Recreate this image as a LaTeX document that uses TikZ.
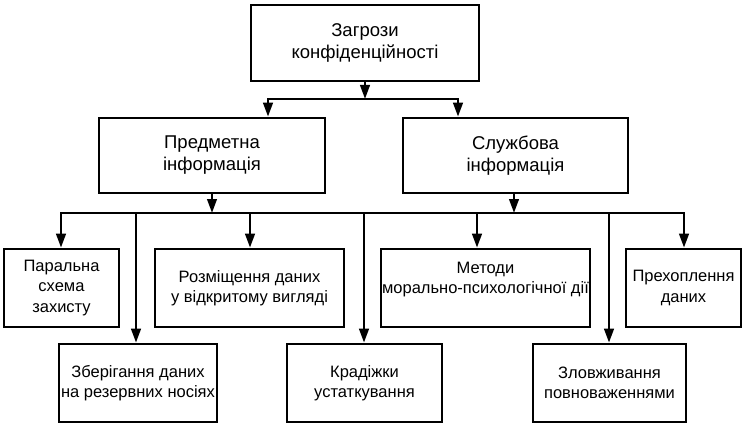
\documentclass[tikz,border=0pt]{standalone}
\usepackage{fontspec}
\setmainfont{Liberation Sans}
\usetikzlibrary{arrows.meta}
\begin{document}
\begin{tikzpicture}[x=1pt,y=-1pt,
  box/.style={draw, line width=2.6pt, align=center, inner sep=1pt,
    font=\fontsize{16.5}{20.5}\selectfont},
  bigbox/.style={box, font=\fontsize{18.5}{22}\selectfont},
  conn/.style={line width=2.6pt, line join=miter},
  arr/.style={conn, -{Triangle[length=14pt,width=9.5pt]}}]
\useasboundingbox (0,0) rectangle (746,425);
% level 0
\node[bigbox, minimum width=228pt, minimum height=76pt] (top) at (365,43) {Загрози\\конфіденційності};
% level 1
\node[bigbox, minimum width=226pt, minimum height=75pt] (pred) at (212,155.5) {Предметна\\інформація};
\node[bigbox, minimum width=225pt, minimum height=75pt] (sluzh) at (515.5,155.5) {Службова\\інформація};
% level 2 (upper row)
\node[box, minimum width=115pt, minimum height=78pt] (par) at (61.5,288) {Паральна\\схема\\захисту};
\node[box, minimum width=189pt, minimum height=78pt] (rozm) at (249.5,288) {Розміщення даних\\у відкритому вигляді};
\node[box, minimum width=209pt, minimum height=78pt] (met) at (485.5,288) {Методи\\морально-психологічної дії\\\mbox{}};
\node[box, minimum width=115pt, minimum height=78pt] (preh) at (683.5,288) {Прехоплення\\даних};
% level 2 (lower row)
\node[box, minimum width=158pt, minimum height=78pt] (zber) at (138,383) {Зберігання даних\\на резервних носіях};
\node[box, minimum width=155pt, minimum height=78pt] (krad) at (364.5,383) {Крадіжки\\устаткування};
\node[box, minimum width=153pt, minimum height=78pt] (zlov) at (609.5,383) {Зловживання\\повноваженнями};
% bus 1
\coordinate (b1L) at (268,99);
\coordinate (b1R) at (458,99);
\coordinate (b1M) at (365,99);
\draw[arr] (top.south) -- (b1M);
\draw[arr] (b1R) -- (b1L) -- (b1L |- pred.north);
\draw[arr] (b1L) -- (b1R) -- (b1R |- sluzh.north);
% bus 2
\coordinate (b2L) at (61,213);
\coordinate (b2R) at (684,213);
\draw[arr] (pred.south) -- (pred.south |- b2L);
\draw[arr] (sluzh.south -| 514,0) -- (514,213);
\draw[arr] (b2R) -- (b2L) -- (b2L |- par.north);
\draw[arr] (b2L) -- (b2R) -- (b2R |- preh.north);
\coordinate (j1) at (136,213);
\coordinate (j2) at (250,213);
\coordinate (j3) at (364,213);
\coordinate (j4) at (477,213);
\coordinate (j5) at (609,213);
\draw[arr] (j1) -- (j1 |- zber.north);
\draw[arr] (j2) -- (j2 |- rozm.north);
\draw[arr] (j3) -- (j3 |- krad.north);
\draw[arr] (j4) -- (j4 |- met.north);
\draw[arr] (j5) -- (j5 |- zlov.north);
\end{tikzpicture}
\end{document}
